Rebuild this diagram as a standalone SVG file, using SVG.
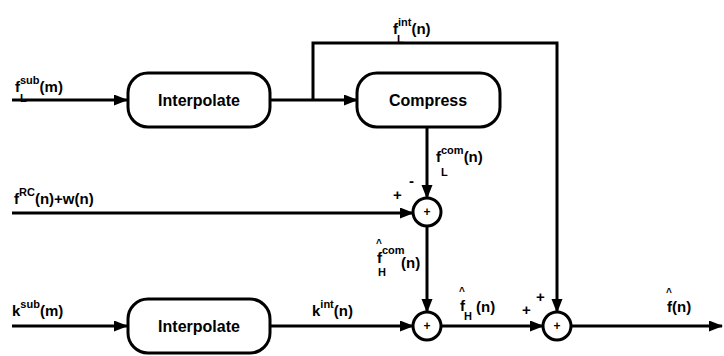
<svg xmlns="http://www.w3.org/2000/svg" width="724" height="356" viewBox="0 0 724 356">
<defs>
<marker id="arr" markerUnits="userSpaceOnUse" markerWidth="14" markerHeight="12" refX="13" refY="5.5" orient="auto">
<path d="M0,0 L14,5.5 L0,11 z" fill="#000"/>
</marker>
<style>
.box{fill:#fff;stroke:#000;stroke-width:3}
.sum{fill:#fff;stroke:#000;stroke-width:3}
.ln{fill:none;stroke:#000;stroke-width:3;stroke-linejoin:miter}
.bt{font-family:"Liberation Sans",Arial,sans-serif;font-weight:bold;font-size:16px;fill:#000;text-anchor:middle}
.lb{font-family:"Liberation Sans",Arial,sans-serif;font-weight:bold;font-size:15px;fill:#000}
.sp{font-size:11px}
.hat{font-family:"Liberation Sans",Arial,sans-serif;font-weight:bold;font-size:10px;fill:#000}
.pl{font-family:"Liberation Sans",Arial,sans-serif;font-weight:bold;font-size:12px;fill:#000;text-anchor:middle}
</style>
</defs>
<rect width="724" height="356" fill="#fff"/>
<g id="connectors">
<line class="ln" x1="12" y1="100" x2="127" y2="100" marker-end="url(#arr)"/>
<line class="ln" x1="271" y1="100" x2="357" y2="100" marker-end="url(#arr)"/>
<polyline class="ln" points="313,100 313,43 557,43 557,312" marker-end="url(#arr)"/>
<line class="ln" x1="427" y1="127" x2="427" y2="198" marker-end="url(#arr)"/>
<line class="ln" x1="12" y1="213" x2="413" y2="213" marker-end="url(#arr)"/>
<line class="ln" x1="427" y1="226" x2="427" y2="312" marker-end="url(#arr)"/>
<line class="ln" x1="12" y1="326" x2="127" y2="326" marker-end="url(#arr)"/>
<line class="ln" x1="270" y1="326" x2="413" y2="326" marker-end="url(#arr)"/>
<line class="ln" x1="441" y1="326" x2="543" y2="326" marker-end="url(#arr)"/>
<line class="ln" x1="571" y1="326" x2="722" y2="326" marker-end="url(#arr)"/>
</g>
<g id="interpolate1">
<rect class="box" x="128" y="73" width="142" height="54" rx="20" ry="20"/>
<text class="bt" x="199" y="106">Interpolate</text>
</g>
<g id="compress">
<rect class="box" x="357" y="73" width="143" height="54" rx="20" ry="20"/>
<text class="bt" x="428" y="106">Compress</text>
</g>
<g id="interpolate2">
<rect class="box" x="128" y="299" width="142" height="54" rx="20" ry="20"/>
<text class="bt" x="199" y="332">Interpolate</text>
</g>
<g id="sum1">
<circle class="sum" cx="427" cy="212" r="14"/>
<text class="pl" x="427" y="216">+</text>
</g>
<g id="sum2">
<circle class="sum" cx="427" cy="326" r="14"/>
<text class="pl" x="427" y="330">+</text>
</g>
<g id="sum3">
<circle class="sum" cx="557" cy="326" r="14"/>
<text class="pl" x="557" y="330">+</text>
</g>
<g id="labels">
<text class="lb" x="15" y="92">f<tspan class="sp" dy="-8">sub</tspan><tspan dy="8">(m)</tspan></text>
<text class="lb sp" x="20" y="102">L</text>
<text class="lb" x="393" y="34">f<tspan class="sp" dy="-8">int</tspan><tspan dy="8">(n)</tspan></text>
<text class="lb sp" x="397" y="43">L</text>
<text class="lb" x="436" y="162">f<tspan class="sp" dy="-8">com</tspan><tspan dy="8">(n)</tspan></text>
<text class="lb sp" x="441" y="176">L</text>
<text class="lb" x="409" y="186">-</text>
<text class="lb" x="393" y="200">+</text>
<text class="lb" x="14" y="204">f<tspan class="sp" dy="-8">RC</tspan><tspan dy="8">(n)+w(n)</tspan></text>
<text class="hat" x="376" y="247">^</text>
<text class="lb" x="377" y="263">f<tspan class="sp" dy="-9">com</tspan></text>
<text class="lb sp" x="378" y="276">H</text>
<text class="lb" x="401" y="268">(n)</text>
<text class="lb" x="12" y="316">k<tspan class="sp" dy="-8">sub</tspan><tspan dy="8">(m)</tspan></text>
<text class="lb" x="312" y="316">k<tspan class="sp" dy="-8">int</tspan><tspan dy="8">(n)</tspan></text>
<text class="hat" x="459" y="295">^</text>
<text class="lb" x="460" y="311">f</text>
<text class="lb sp" x="464" y="320">H</text>
<text class="lb" x="476" y="312">(n)</text>
<text class="lb" x="522" y="315">+</text>
<text class="lb" x="536" y="302">+</text>
<text class="hat" x="666" y="296">^</text>
<text class="lb" x="667" y="312">f(n)</text>
</g>
</svg>
